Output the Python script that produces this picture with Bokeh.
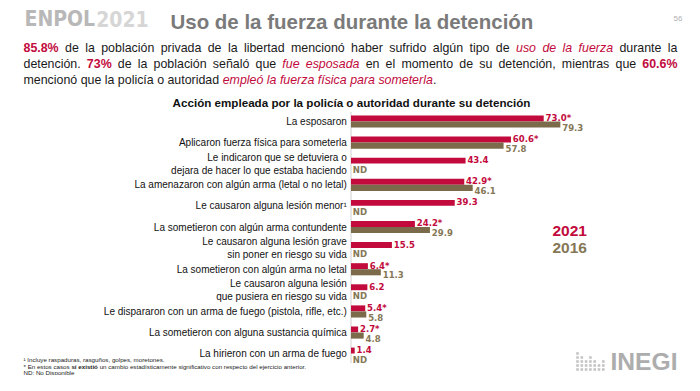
import glob
import os

from bokeh.plotting import figure
from bokeh.models import Range1d, ColumnDataSource
from bokeh.core.properties import value
from bokeh.embed import file_html
from bokeh.resources import INLINE

# ---------------- data ----------------
categories = [
    "La esposaron",
    "Aplicaron fuerza física para someterla",
    "Le indicaron que se detuviera o\ndejara de hacer lo que estaba haciendo",
    "La amenazaron con algún arma (letal o no letal)",
    "Le causaron alguna lesión menor¹",
    "La sometieron con algún arma contundente",
    "Le causaron alguna lesión grave\nsin poner en riesgo su vida",
    "La sometieron con algún arma no letal",
    "Le causaron alguna lesión\nque pusiera en riesgo su vida",
    "Le dispararon con un arma de fuego (pistola, rifle, etc.)",
    "La sometieron con alguna sustancia química",
    "La hirieron con un arma de fuego",
]
values_2021 = [73.0, 60.6, 43.4, 42.9, 39.3, 24.2, 15.5, 6.4, 6.2, 5.4, 2.7, 1.4]
signif_2021 = [True, True, False, True, False, True, False, True, False, True, True, False]
values_2016 = [79.3, 57.8, None, 46.1, None, 29.9, None, 11.3, None, 5.8, 4.8, None]
series_names = ["2021", "2016"]
nd_label = "ND"

page_title = "Uso de la fuerza durante la detención"
chart_title = "Acción empleada por la policía o autoridad durante su detención"
brand_a, brand_b = "ENPOL", "2021"
page_number = "56"
paragraph = [
    [("85.8%", "b"), (" de la población privada de la libertad mencionó haber sufrido algún tipo de ", "n"),
     ("uso de la fuerza", "i"), (" durante la", "n")],
    [("detención. ", "n"), ("73%", "b"), (" de la población señaló que ", "n"), ("fue esposada", "i"),
     (" en el momento de su detención, mientras que ", "n"), ("60.6%", "b")],
    [("mencionó que la policía o autoridad ", "n"), ("empleó la fuerza física para someterla", "i"), (".", "n")],
]
footnotes = [
    [("¹ Incluye raspaduras, rasguños, golpes, moretones.", "n")],
    [("* En estos casos ", "n"), ("sí existió", "bk"),
     (" un cambio estadísticamente significativo con respecto del ejercicio anterior.", "n")],
    [("ND: No Disponible", "n")],
]

# ---------------- styles ----------------
RED = "#C20A3C"
OLIVE = "#7B6B4B"
OLIVE_TXT = "#857755"
GREY_TITLE = "#7a7a7a"
FONT = "Liberation Sans"
STYLE = {"n": ("#1a1a1a", "normal"), "b": (RED, "bold"), "i": (RED, "italic"), "bk": ("#1a1a1a", "bold")}

# ---------------- text measuring (for inline layout) ----------------
try:
    from PIL import ImageFont
except Exception:
    ImageFont = None

_paths = {}


def _find(fname):
    if fname in _paths:
        return _paths[fname]
    hit = None
    for root in ("/usr/share/fonts", "/usr/local/share/fonts", os.path.expanduser("~/.fonts")):
        hits = glob.glob(os.path.join(root, "**", fname), recursive=True)
        if hits:
            hit = hits[0]
            break
    _paths[fname] = hit
    return hit


def measure(text, size, fname, fallback_k):
    path = _find(fname)
    if ImageFont is not None and path:
        try:
            f = ImageFont.truetype(path, 200)
            return f.getlength(text) * size / 200.0
        except Exception:
            pass
    return len(text) * size * fallback_k


def text_width(text, size, st="n"):
    bold = st in ("b", "bk")
    italic = st == "i"
    suffix = {(False, False): "Regular", (True, False): "Bold",
              (False, True): "Italic", (True, True): "BoldItalic"}[(bold, italic)]
    return measure(text, size, f"LiberationSans-{suffix}.ttf", 0.56 if bold else 0.51)


if _find("LiberationSansNarrow-Bold.ttf"):
    COND_FONT, COND_FILE = "Liberation Sans Narrow", "LiberationSansNarrow-Bold.ttf"
else:
    COND_FONT, COND_FILE = "DejaVu Sans Condensed", "DejaVuSansCondensed-Bold.ttf"

# ---------------- figure ----------------
W, H = 684, 375
p = figure(width=W, height=H, x_range=Range1d(0, W), y_range=Range1d(H, 0),
           output_backend="svg", toolbar_location=None, min_border=0,
           x_axis_location=None, y_axis_location=None, outline_line_color=None)
p.grid.visible = False
p.background_fill_color = "white"
p.border_fill_color = "white"

# bar scales
ZERO_PX = 350.5
PX_PER_PCT = 2.64
ROW0_PX = 121
ROW_PITCH = 21.1
p.extra_x_ranges = {"pct": Range1d(-ZERO_PX / PX_PER_PCT, (W - ZERO_PX) / PX_PER_PCT)}
p.extra_y_ranges = {"row": Range1d((H - ROW0_PX) / ROW_PITCH, -ROW0_PX / ROW_PITCH)}
KW = dict(x_range_name="pct", y_range_name="row")

n = len(categories)
rows = list(range(n))

# axis line
p.segment(x0=[0], y0=[-0.45], x1=[0], y1=[n - 0.55], line_color="#cfcfcf", line_width=1, **KW)

# 2021 bars
src21 = ColumnDataSource(dict(
    y=[r - 0.145 for r in rows], v=values_2021,
    ly=[r - 0.19 for r in rows], lx=[v + 0.7 for v in values_2021],
    lab=[f"{v:.1f}" + ("*" if s else "") for v, s in zip(values_2021, signif_2021)],
))
p.hbar(y="y", left=0, right="v", height=0.28, source=src21, fill_color=RED, line_color=None, **KW)
p.text(x="lx", y="ly", text="lab", source=src21, text_color=RED, text_font=value(COND_FONT),
       text_font_style="bold", text_font_size="9.5px", text_baseline="middle", text_align="left", **KW)

# 2016 bars
r16 = [r for r, v in zip(rows, values_2016) if v is not None]
v16 = [v for v in values_2016 if v is not None]
src16 = ColumnDataSource(dict(
    y=[r + 0.145 for r in r16], v=v16,
    ly=[r + 0.27 for r in r16], lx=[v + 0.7 for v in v16],
    lab=[f"{v:.1f}" for v in v16],
))
p.hbar(y="y", left=0, right="v", height=0.29, source=src16, fill_color=OLIVE, line_color=None, **KW)
p.text(x="lx", y="ly", text="lab", source=src16, text_color=OLIVE_TXT, text_font=value(COND_FONT),
       text_font_style="bold", text_font_size="9.5px", text_baseline="middle", text_align="left", **KW)

nd_rows = [r for r, v in zip(rows, values_2016) if v is None]
p.text(x=[0.7] * len(nd_rows), y=[r + 0.27 for r in nd_rows], text=[nd_label] * len(nd_rows),
       text_color=OLIVE_TXT, text_font=value(COND_FONT), text_font_style="bold",
       text_font_size="9.5px", text_baseline="middle", text_align="left", **KW)

# category labels
p.text(x=[-1.6] * n, y=rows, text=categories, text_color="#111111", text_font=value(FONT),
       text_font_size="10px", text_baseline="middle", text_align="right", text_line_height=1.2, **KW)

# legend (year names)
for i, (name, col) in enumerate(zip(series_names, [RED, OLIVE_TXT])):
    p.text(x=[552], y=[230 + i * 17.5], text=[name], text_color=col,
           text_font=value(FONT), text_font_style="bold", text_font_size="15.5px",
           text_baseline="middle", text_align="left")

# ---------------- header ----------------
bs = 21.0
p.text(x=[24], y=[18], text=[brand_a], text_color="#b8b8b8", text_font=value(COND_FONT),
       text_font_style="bold", text_font_size=f"{bs:.2f}px", text_baseline="middle", text_align="left")
bw = measure(brand_a, bs, COND_FILE, 0.6)
p.text(x=[24 + bw + 1], y=[18], text=[brand_b], text_color="#d6d6d6",
       text_font=value(COND_FONT), text_font_style="bold", text_font_size=f"{bs:.2f}px",
       text_baseline="middle", text_align="left")

ts = 19.0 * 363.0 / max(text_width(page_title, 19.0, "bk"), 1)
p.text(x=[170], y=[21], text=[page_title], text_color=GREY_TITLE, text_font=value(FONT),
       text_font_style="bold", text_font_size=f"{ts:.2f}px", text_baseline="middle", text_align="left")

p.text(x=[682], y=[18], text=[page_number], text_color="#b0b0b0", text_font=value(FONT),
       text_font_size="8px", text_baseline="middle", text_align="right")


def put(txt, st, x, y, size):
    color, fstyle = STYLE[st]
    p.text(x=[x], y=[y], text=[txt], text_color=color, text_font=value(FONT), text_font_style=fstyle,
           text_font_size=f"{size:.2f}px", text_baseline="middle", text_align="left")


def flow_line(segs, x0, y, size):
    cursor = x0
    for txt, st in segs:
        lead = len(txt) - len(txt.lstrip(" "))
        shown = txt.strip(" ")
        if shown:
            put(shown, st, cursor + text_width(" " * lead, size, st), y, size)
        cursor += text_width(txt, size, st)


def justify_line(segs, x0, x1, y, size):
    # words keep their style; every boundary between words is one stretched space
    words = []
    for txt, st in segs:
        for w in txt.split(" "):
            if w:
                words.append((w, st))
    total = sum(text_width(w, size, st) for w, st in words)
    gap = (x1 - x0 - total) / max(len(words) - 1, 1)
    cursor = x0
    for w, st in words:
        put(w, st, cursor, y, size)
        cursor += text_width(w, size, st) + gap


PX0, PX1 = 23, 677
psize = 12.4
for li, segs in enumerate(paragraph):
    y = 47.5 + li * 15.8
    if li < len(paragraph) - 1:
        justify_line(segs, PX0, PX1, y, psize)
    else:
        flow_line(segs, PX0, y, psize)

csize = 11.0 * 358.0 / max(text_width(chart_title, 11.0, "bk"), 1)
p.text(x=[351], y=[102], text=[chart_title], text_color="#111111", text_font=value(FONT),
       text_font_style="bold", text_font_size=f"{csize:.2f}px", text_baseline="middle", text_align="center")

for li, segs in enumerate(footnotes):
    flow_line(segs, 23, 359 + li * 6.6, 6.2)

# ---------------- INEGI mark ----------------
dot_x, dot_y = [], []
heights = [5, 4, 3, 4, 3, 2, 3]
for c, h in enumerate(heights):
    for r in range(h):
        dot_x.append(577 + c * 4.3)
        dot_y.append(369 - r * 4.0)
p.scatter(x=dot_x, y=dot_y, marker="square", size=2.6, fill_color="#c4c4c4", line_color=None)
isz = 23.0 * 67.0 / max(text_width("INEGI", 23.0, "bk"), 1)
p.text(x=[610], y=[361], text=["INEGI"], text_color="#adadad", text_font=value(FONT),
       text_font_style="bold", text_font_size=f"{isz:.2f}px", text_baseline="middle", text_align="left")

open("out.html", "w").write(file_html(p, INLINE))
